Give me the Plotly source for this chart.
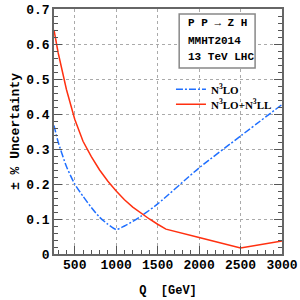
import plotly.graph_objects as go

# Data
q_n3lo = [250, 300, 400, 500, 600, 700, 800, 900, 1000, 1100, 1200, 1300, 1500, 2000, 2500, 3000]
u_n3lo = [0.367, 0.32, 0.25, 0.20, 0.165, 0.133, 0.105, 0.085, 0.070, 0.080, 0.093, 0.108, 0.143, 0.246, 0.337, 0.427]

q_res = [250, 300, 400, 500, 600, 700, 800, 900, 1000, 1100, 1200, 1300, 1400, 1500, 1600, 2000, 2500, 3000]
u_res = [0.64, 0.575, 0.47, 0.385, 0.322, 0.278, 0.240, 0.208, 0.180, 0.155, 0.134, 0.116, 0.100, 0.085, 0.071, 0.047, 0.017, 0.037]

x_ticks = [500, 1000, 1500, 2000, 2500, 3000]
y_ticks = [0, 0.1, 0.2, 0.3, 0.4, 0.5, 0.6, 0.7]
y_ticktext = ["<b>0</b>", "<b>0.1</b>", "<b>0.2</b>", "<b>0.3</b>", "<b>0.4</b>", "<b>0.5</b>", "<b>0.6</b>", "<b>0.7</b>"]
x_ticktext = ["<b>500</b>", "<b>1000</b>", "<b>1500</b>", "<b>2000</b>", "<b>2500</b>", "<b>3000</b>"]

FONT = "Liberation Mono, Courier New, monospace"
SERIF = "Liberation Serif, Times New Roman, serif"

fig = go.Figure()
fig.add_trace(go.Scatter(x=q_n3lo, y=u_n3lo, mode="lines", name="<b>N<sup>3</sup>LO</b>", legend="legend",
                         line=dict(color="#1f6fff", width=1.5, dash="7px,2px,2px,2px", shape="spline", smoothing=0.6)))
fig.add_trace(go.Scatter(x=q_res, y=u_res, mode="lines", name="<b>N<sup>3</sup>LO+N<sup>3</sup>LL</b>", legend="legend2",
                         line=dict(color="#ff3010", width=1.5)))

leg_common = dict(xanchor="left", yanchor="middle", bgcolor="rgba(0,0,0,0)",
                  font=dict(family=SERIF, size=11, color="black"), itemwidth=30)

fig.update_layout(
    width=300, height=300,
    margin=dict(l=53.5, r=18, t=9, b=46, autoexpand=False),
    paper_bgcolor="white", plot_bgcolor="white",
    font=dict(family=FONT, size=13, color="black"),
    showlegend=True,
    legend=dict(x=0.513, y=0.672, **leg_common),
    legend2=dict(x=0.513, y=0.611, **leg_common),
    xaxis=dict(range=[250, 3000], tickvals=x_ticks, ticktext=x_ticktext, ticks="inside", ticklen=8, tickcolor="#555",
               showline=True, linecolor="#666", linewidth=1.5, mirror=True, automargin=False,
               showgrid=True, gridcolor="#aaa", griddash="dot", gridwidth=1,
               minor=dict(dtick=100, ticks="inside", ticklen=4, tickcolor="#555", showgrid=False),
               tickfont=dict(family=FONT, size=13), ticklabelstandoff=-2,
               title=dict(text="<b>Q  [GeV]</b>", font=dict(family=FONT, size=12), standoff=13),
               zeroline=False),
    yaxis=dict(range=[0, 0.7], tickvals=y_ticks, ticktext=y_ticktext,
               ticks="inside", ticklen=8, tickcolor="#555", automargin=False,
               showline=True, linecolor="#666", linewidth=1.5, mirror="ticks",
               showgrid=True, gridcolor="#aaa", griddash="dot", gridwidth=1,
               minor=dict(dtick=0.02, ticks="inside", ticklen=4, tickcolor="#555", showgrid=False),
               tickfont=dict(family=FONT, size=13), ticklabelstandoff=0,
               title=dict(text="<b>± % Uncertainty</b>", font=dict(family=FONT, size=13), standoff=4),
               zeroline=False),
)

fig.add_shape(type="rect", xref="paper", yref="paper", x0=0.549, x1=0.882, y0=0.759, y1=0.980,
              line=dict(color="#888", width=1.5), fillcolor="white", layer="above")
texts = ["<b>P P → Z H</b>", "<b>MMHT2014</b>", "<b>13 TeV LHC</b>"]
ys = [0.942, 0.871, 0.803]
for t, yy in zip(texts, ys):
    fig.add_annotation(text=t, xref="paper", yref="paper", x=0.580, y=yy, xanchor="left", yanchor="middle",
                       showarrow=False, font=dict(family=FONT, size=11))

fig.write_html("out.html", config={"displayModeBar": False},
               post_script="document.body.style.margin='0px';")
